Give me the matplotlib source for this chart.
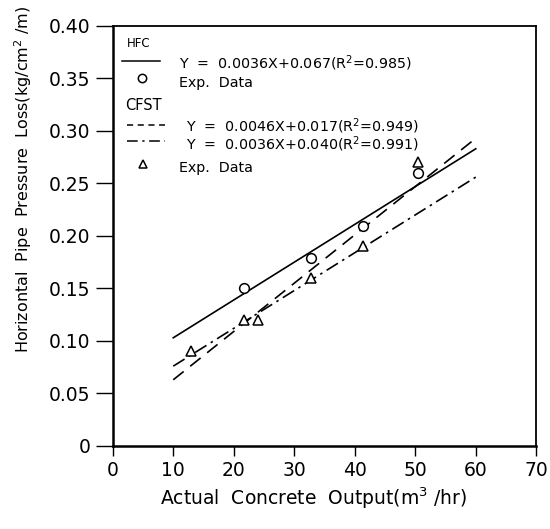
import numpy as np
import matplotlib
matplotlib.use("Agg")
import matplotlib.pyplot as plt
from matplotlib.lines import Line2D

# Data
hfc_x = [21.7, 32.7, 41.4, 50.5]
hfc_y = [0.150, 0.179, 0.209, 0.260]
cfst_x = [13.0, 21.7, 24.0, 32.7, 41.4, 50.5]
cfst_y = [0.090, 0.120, 0.120, 0.160, 0.190, 0.270]

fit_x = [10, 60]
hfc_fit = (0.0036, 0.067)
cfst_fit1 = (0.0046, 0.017)
cfst_fit2 = (0.0036, 0.040)

xticks = [0, 10, 20, 30, 40, 50, 60, 70]
yticks = [0, 0.05, 0.10, 0.15, 0.20, 0.25, 0.30, 0.35, 0.40]
yticklabels = ["0", "0.05", "0.10", "0.15", "0.20", "0.25", "0.30", "0.35", "0.40"]

plt.rcParams['font.family'] = ['DejaVu Sans']

fig = plt.figure(figsize=(5.5, 5.29), dpi=100)
ax = fig.add_axes([0.205, 0.157, 0.77, 0.794])

fx = np.array(fit_x, dtype=float)
ax.plot(fx, hfc_fit[0] * fx + hfc_fit[1], color='black', lw=1.2, ls='-')
ax.plot(fx, cfst_fit1[0] * fx + cfst_fit1[1], color='black', lw=1.2, ls=(0, (8, 5)))
ax.plot(fx, cfst_fit2[0] * fx + cfst_fit2[1], color='black', lw=1.2, ls=(0, (8, 3, 1.5, 3)))

ax.plot(hfc_x, hfc_y, ls='none', marker='o', ms=7, mfc='white', mec='black', mew=1.1)
ax.plot(cfst_x, cfst_y, ls='none', marker='^', ms=7, mfc='white', mec='black', mew=1.1)

ax.set_xlim(0, 70)
ax.set_ylim(0, 0.40)
ax.set_xticks(xticks)
ax.set_xticklabels([str(t) for t in xticks])
ax.set_yticks(yticks)
ax.set_yticklabels(yticklabels)
ax.tick_params(axis='y', direction='out', length=12, width=1, labelsize=13.5, pad=4)
ax.tick_params(axis='x', direction='out', length=7, width=1, labelsize=13.5, pad=4)

for s in ['left', 'bottom']:
    ax.spines[s].set_linewidth(1.8)
for s in ['top', 'right']:
    ax.spines[s].set_linewidth(1.3)

ax.set_xlabel("Actual  Concrete  Output(m$^3$ /hr)", fontsize=13.5)
ax.xaxis.set_label_coords(0.475, -0.095)
ax.set_ylabel("Horizontal  Pipe  Pressure  Loss(kg/cm$^2$ /m)", fontsize=11.5)
ax.yaxis.set_label_coords(-0.185, 0.635)

# Legend (manual, in axes coordinates)
def ax_xy(px, py):
    return ((px - 113) / (536 - 113), (446 - py) / (446 - 26))

tr = ax.transAxes
fs = 10.3
x0, y0 = ax_xy(127, 44)
ax.text(x0, y0, "HFC", transform=tr, fontsize=8.5, va='center', ha='left')
a, b = ax_xy(122, 61); c, _ = ax_xy(160, 61)
ax.add_line(Line2D([a, c], [b, b], transform=tr, color='black', lw=1.1))
x0, y0 = ax_xy(179, 63)
ax.text(x0, y0, "Y  =  0.0036X+0.067(R$^2$=0.985)", transform=tr, fontsize=fs, va='center')
a, b = ax_xy(142, 78)
ax.plot([a], [b], transform=tr, marker='o', ms=6, mfc='white', mec='black', mew=1.1, clip_on=False)
x0, y0 = ax_xy(179, 83)
ax.text(x0, y0, "Exp.  Data", transform=tr, fontsize=fs, va='center')
x0, y0 = ax_xy(125, 106)
ax.text(x0, y0, "CFST", transform=tr, fontsize=10.5, va='center')
a, b = ax_xy(127, 125); c, _ = ax_xy(165, 125)
ax.add_line(Line2D([a, c], [b, b], transform=tr, color='black', lw=1.1, ls=(0, (4, 3))))
x0, y0 = ax_xy(186, 126)
ax.text(x0, y0, "Y  =  0.0046X+0.017(R$^2$=0.949)", transform=tr, fontsize=fs, va='center')
a, b = ax_xy(127, 141); c, _ = ax_xy(165, 141)
ax.add_line(Line2D([a, c], [b, b], transform=tr, color='black', lw=1.1, ls=(0, (7, 3, 1.5, 3))))
x0, y0 = ax_xy(186, 144)
ax.text(x0, y0, "Y  =  0.0036X+0.040(R$^2$=0.991)", transform=tr, fontsize=fs, va='center')
a, b = ax_xy(143, 164)
ax.plot([a], [b], transform=tr, marker='^', ms=6, mfc='white', mec='black', mew=1.1, clip_on=False)
x0, y0 = ax_xy(179, 168)
ax.text(x0, y0, "Exp.  Data", transform=tr, fontsize=fs, va='center')

fig.savefig("out.png", dpi=100)
